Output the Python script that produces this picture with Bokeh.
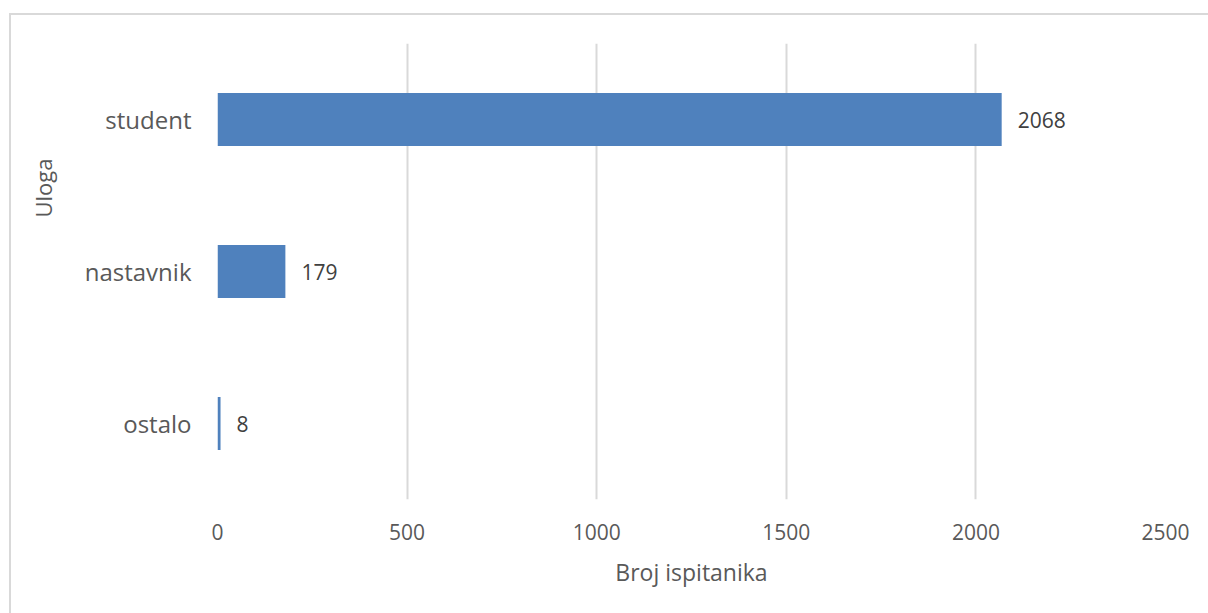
from bokeh.plotting import figure
from bokeh.models import ColumnDataSource, LabelSet, Title, FactorRange, Range1d, FixedTicker, InlineStyleSheet
from bokeh.core.properties import value
from bokeh.embed import file_html
from bokeh.resources import INLINE

categories = ["ostalo", "nastavnik", "student"]
counts = [8, 179, 2068]
x_ticks = [0, 500, 1000, 1500, 2000, 2500]
x_title = "Broj ispitanika"
y_title = "Uloga"

FONT = "Open Sans"

source = ColumnDataSource(data=dict(cat=categories, val=counts, lab=[str(v) for v in counts]))

border_css = InlineStyleSheet(css="""
:host { position: relative; }
:host::after {
  content: "";
  position: absolute;
  left: 9px; top: 13px; right: 0; bottom: 0;
  border-left: 2px solid #d9d9d9;
  border-top: 2px solid #d9d9d9;
  pointer-events: none;
  z-index: 10;
}
""")

p = figure(
    y_range=FactorRange(*categories),
    x_range=Range1d(0, 2500),
    width=1208, height=613,
    min_border_left=217, min_border_top=43, min_border_right=43, min_border_bottom=114,
    output_backend="svg", toolbar_location=None,
    stylesheets=[border_css],
)
p.outline_line_color = None
p.background_fill_color = "white"
p.border_fill_color = "white"

p.hbar(y="cat", right="val", left=0, height=0.35, source=source,
       fill_color="#4f81bd", line_color=None)

labels = LabelSet(x="val", y="cat", text="lab", source=source, x_offset=16,
                  text_baseline="middle", text_align="left",
                  text_font=value(FONT), text_font_size="21px", text_color="#404040")
p.add_layout(labels)

p.xaxis.ticker = FixedTicker(ticks=x_ticks)
p.xaxis.axis_line_color = None
p.xaxis.major_tick_line_color = None
p.xaxis.minor_tick_line_color = None
p.xaxis.major_label_text_font = FONT
p.xaxis.major_label_text_font_size = "21px"
p.xaxis.major_label_text_color = "#595959"
p.xaxis.major_label_standoff = 18
p.xaxis.axis_label = x_title
p.xaxis.axis_label_text_font = FONT
p.xaxis.axis_label_text_font_size = "23px"
p.xaxis.axis_label_text_font_style = "normal"
p.xaxis.axis_label_text_color = "#595959"
p.xaxis.axis_label_standoff = 13

p.yaxis.axis_line_color = None
p.yaxis.major_tick_line_color = None
p.yaxis.minor_tick_line_color = None
p.yaxis.major_label_text_font = FONT
p.yaxis.major_label_text_font_size = "24px"
p.yaxis.major_label_text_color = "#595959"
p.yaxis.major_label_standoff = 20

p.xgrid.grid_line_color = "#d9d9d9"
p.xgrid.grid_line_width = 2
p.ygrid.grid_line_color = None

p.add_layout(Title(text=y_title, align="right", offset=115, standoff=47,
                   text_font=FONT, text_font_size="22px", text_font_style="normal",
                   text_color="#595959"), "left")

open("out.html", "w").write(file_html(p, INLINE))
